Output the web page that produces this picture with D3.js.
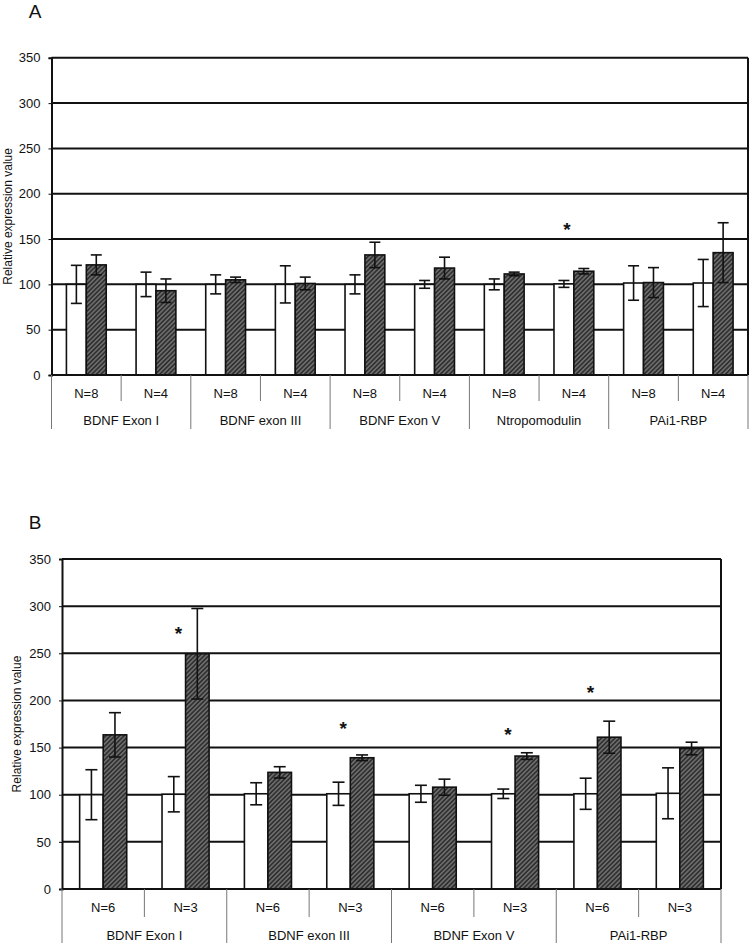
<!DOCTYPE html>
<html>
<head>
<meta charset="utf-8">
<script src="https://cdn.jsdelivr.net/npm/d3@7"></script>
<style>
  body { margin: 0; background: #fff; }
  svg { display: block; font-family: "Liberation Sans", Arial, sans-serif; }
</style>
</head>
<body>
<svg id="chart" width="750" height="943"></svg>
<script>
// ---------- Data ----------
const yTicks = [0, 50, 100, 150, 200, 250, 300, 350];
const yLabel = "Relative expression value";

// Panel A
const genesA = ["BDNF Exon I", "BDNF exon III", "BDNF Exon V", "Ntropomodulin", "PAi1-RBP"];
const nA = ["N=8", "N=4"];
const whiteA    = [100, 100, 100, 100, 100, 100, 100, 100.5, 101.5, 101.5];
const whiteErrA = [21, 13.5, 10.5, 20.5, 10.5, 4.3, 6, 3.8, 19, 26];
const hatchA    = [121.5, 93, 105, 101, 132.5, 118, 111.5, 114.5, 102, 135];
const hatchErrA = [11, 13, 3, 7, 14, 12, 2, 3, 16.5, 33];
const starIdxA  = [7];
const starValA  = [163];

// Panel B
const genesB = ["BDNF Exon I", "BDNF exon III", "BDNF Exon V", "PAi1-RBP"];
const nB = ["N=6", "N=3"];
const whiteB    = [100, 100.5, 101, 101, 101, 101, 101, 101.5];
const whiteErrB = [26.5, 18.7, 11.7, 12.3, 9, 5, 16.5, 27];
const hatchB    = [163.5, 249.5, 123.7, 139.2, 108, 141, 161, 149];
const hatchErrB = [23.5, 48, 6, 3, 8.5, 3.5, 17, 6.7];
const starIdxB  = [1, 3, 5, 6];
const starValB  = [274, 172.6, 166.3, 211];

// ---------- Drawing ----------
const svg = d3.select("#chart");
const font = "'Liberation Sans', Arial, sans-serif";

const defs = svg.append("defs");
const pat = defs.append("pattern")
  .attr("id", "hatch")
  .attr("patternUnits", "userSpaceOnUse")
  .attr("width", 3.2).attr("height", 3.2)
  .attr("patternTransform", "rotate(-45)");
pat.append("rect").attr("width", 3.2).attr("height", 3.2).attr("fill", "#303030");
pat.append("line").attr("x1", 0).attr("y1", 1.6).attr("x2", 3.2).attr("y2", 1.6)
  .attr("stroke", "#9a9a9a").attr("stroke-width", 0.9);

function panel(cfg) {
  const { genes, ns, white, whiteErr, hatch, hatchErr, starIdx, starVal,
          x0, x1, yBottom, yTop, letter, letterPos, yLabelX,
          minorLen, majorLen, nLabelY, gLabelY, capW } = cfg;
  const g = svg.append("g");

  const subKeys = [];
  genes.forEach((ge, i) => ns.forEach((n, j) => subKeys.push(i + "_" + j)));

  const y = d3.scaleLinear().domain([0, 350]).range([yBottom, yTop]);
  const x = d3.scaleBand().domain(subKeys).range([x0, x1]).padding(0);
  const inner = d3.scaleBand().domain(["white", "hatch"]).range([0, x.bandwidth()])
    .paddingInner(0).paddingOuter(0.75);

  // gridlines
  g.append("g").selectAll("line").data(yTicks.filter(t => t > 0)).join("line")
    .attr("x1", x0).attr("x2", x1)
    .attr("y1", d => y(d)).attr("y2", d => y(d))
    .attr("stroke", "#111").attr("stroke-width", 2);

  // y axis
  const yAxis = d3.axisLeft(y).tickValues(yTicks).tickSize(3).tickPadding(8);
  const ya = g.append("g").attr("transform", `translate(${x0},0)`).call(yAxis);
  ya.select(".domain").attr("stroke", "#111").attr("stroke-width", 2);
  ya.selectAll(".tick line").attr("stroke", "#111");
  ya.selectAll("text").attr("font-size", 13).attr("font-family", font).attr("fill", "#111");

  // right border
  g.append("line").attr("x1", x1).attr("x2", x1).attr("y1", y(0)).attr("y2", y(350))
    .attr("stroke", "#111").attr("stroke-width", 2);

  // bars
  const rows = subKeys.map((k, i) => ({ k, i }));
  const bg = g.append("g");
  bg.selectAll("rect.w").data(rows).join("rect").attr("class", "w")
    .attr("x", d => x(d.k) + inner("white"))
    .attr("width", inner.bandwidth())
    .attr("y", d => y(white[d.i]))
    .attr("height", d => y(0) - y(white[d.i]))
    .attr("fill", "#fff").attr("stroke", "#111").attr("stroke-width", 1.6);
  bg.selectAll("rect.h").data(rows).join("rect").attr("class", "h")
    .attr("x", d => x(d.k) + inner("hatch"))
    .attr("width", inner.bandwidth())
    .attr("y", d => y(hatch[d.i]))
    .attr("height", d => y(0) - y(hatch[d.i]))
    .attr("fill", "url(#hatch)").attr("stroke", "#111").attr("stroke-width", 1.6);

  // error bars
  function errBars(key, vals, errs) {
    const eg = g.append("g").attr("stroke", "#111").attr("stroke-width", 1.6);
    rows.forEach(d => {
      const cx = x(d.k) + inner(key) + inner.bandwidth() / 2;
      const lo = y(vals[d.i] - errs[d.i]), hi = y(vals[d.i] + errs[d.i]);
      eg.append("line").attr("x1", cx).attr("x2", cx).attr("y1", lo).attr("y2", hi);
      eg.append("line").attr("x1", cx - capW / 2).attr("x2", cx + capW / 2).attr("y1", lo).attr("y2", lo);
      eg.append("line").attr("x1", cx - capW / 2).attr("x2", cx + capW / 2).attr("y1", hi).attr("y2", hi);
    });
  }
  errBars("white", white, whiteErr);
  errBars("hatch", hatch, hatchErr);

  // x axis baseline
  g.append("line").attr("x1", x0).attr("x2", x1).attr("y1", y(0)).attr("y2", y(0))
    .attr("stroke", "#111").attr("stroke-width", 2);

  // stars
  g.selectAll("text.star").data(starIdx).join("text").attr("class", "star")
    .attr("x", (d) => x(subKeys[d]) + x.bandwidth() / 2 - 7)
    .attr("y", (d, i) => y(starVal[i]) + 9)
    .attr("text-anchor", "middle").attr("font-size", 19).attr("font-weight", "bold")
    .attr("font-family", font).attr("fill", "#111").text("*");

  // category axis separators
  const bounds = subKeys.map(k => x(k)).concat([x1]);
  g.selectAll("line.sep").data(bounds).join("line").attr("class", "sep")
    .attr("x1", d => d).attr("x2", d => d)
    .attr("y1", y(0))
    .attr("y2", (d, i) => (i % ns.length === 0) ? y(0) + majorLen : y(0) + minorLen)
    .attr("stroke", "#777").attr("stroke-width", 1);

  // N labels
  g.selectAll("text.n").data(rows).join("text").attr("class", "n")
    .attr("x", d => x(d.k) + x.bandwidth() / 2)
    .attr("y", nLabelY).attr("dy", "0.35em")
    .attr("text-anchor", "middle").attr("font-size", 13).attr("font-family", font)
    .attr("fill", "#111").text(d => ns[d.i % ns.length]);

  // gene labels
  g.selectAll("text.gene").data(genes).join("text").attr("class", "gene")
    .attr("x", (d, i) => x(i + "_0") + x.bandwidth() * ns.length / 2)
    .attr("y", gLabelY).attr("dy", "0.35em")
    .attr("text-anchor", "middle").attr("font-size", 13).attr("font-family", font)
    .attr("fill", "#111").text(d => d);

  // y label
  g.append("text")
    .attr("transform", `translate(${yLabelX},${(y(0) + y(350)) / 2}) rotate(-90)`)
    .attr("text-anchor", "middle").attr("dy", "0.35em")
    .attr("font-size", 12).attr("font-family", font).attr("fill", "#111").text(yLabel);

  // panel letter
  g.append("text").attr("x", letterPos[0]).attr("y", letterPos[1])
    .attr("text-anchor", "middle").attr("dy", "0.35em")
    .attr("font-size", 19).attr("font-family", font).attr("fill", "#111").text(letter);
}

panel({
  genes: genesA, ns: nA, white: whiteA, whiteErr: whiteErrA, hatch: hatchA, hatchErr: hatchErrA,
  starIdx: starIdxA, starVal: starValA,
  x0: 51.5, x1: 748, yBottom: 375, yTop: 57.8, letter: "A", letterPos: [35, 11], yLabelX: 8,
  minorLen: 26, majorLen: 54, nLabelY: 393, gLabelY: 420, capW: 11
});

panel({
  genes: genesB, ns: nB, white: whiteB, whiteErr: whiteErrB, hatch: hatchB, hatchErr: hatchErrB,
  starIdx: starIdxB, starVal: starValB,
  x0: 62, x1: 721, yBottom: 889, yTop: 559, letter: "B", letterPos: [35, 522], yLabelX: 17,
  minorLen: 28, majorLen: 54, nLabelY: 907.5, gLabelY: 935, capW: 12
});
</script>
</body>
</html>
